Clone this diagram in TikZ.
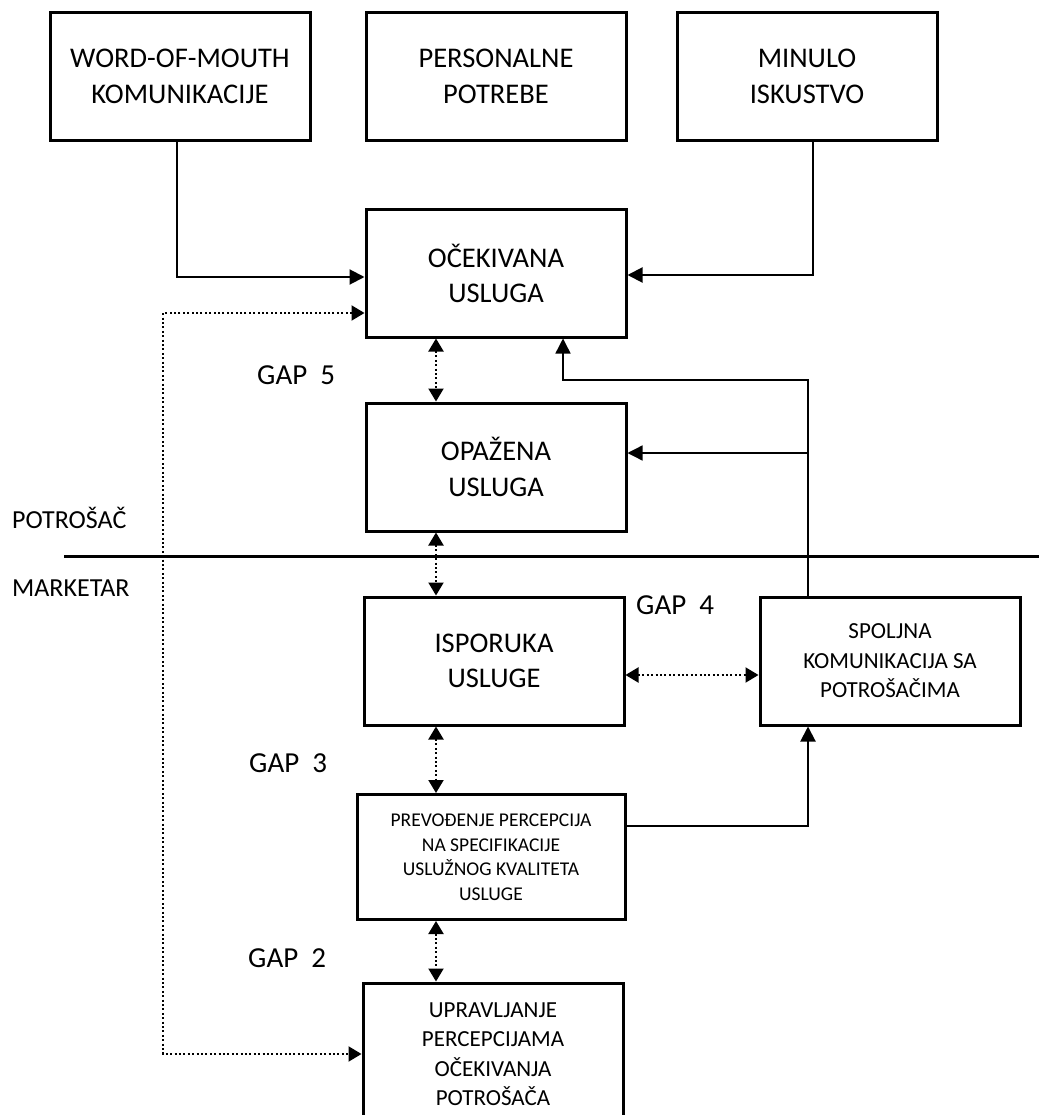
\documentclass[tikz,border=0pt]{standalone}
\usepackage{fontspec}
\setmainfont{Carlito}
\usetikzlibrary{arrows.meta}
\begin{document}
\begin{tikzpicture}[x=1pt,y=-1pt,
  box/.style={draw, line width=3pt, align=center, minimum width=260pt, minimum height=128pt, inner sep=0pt, font=\fontsize{28.5}{35.5}\selectfont},
  medbox/.style={box, font=\fontsize{23}{29.5}\selectfont},
  smallbox/.style={box, font=\fontsize{19.5}{24.5}\selectfont},
  arr/.style={line width=2pt, -{Triangle[length=15pt,width=15pt]}},
  thinarr/.style={line width=1.4pt, -{Triangle[length=15pt,width=15pt]}},
  gaparr/.style={line width=2pt, dash pattern=on 2pt off 2.4pt, {Triangle[length=13pt,width=15pt]}-{Triangle[length=13pt,width=15pt]}},
  lbl/.style={anchor=west, inner sep=0pt, font=\fontsize{29}{32}\selectfont},
  side/.style={anchor=west, inner sep=0pt, font=\fontsize{26}{30}\selectfont}]
\useasboundingbox (0,0) rectangle (1039,1115);
\fill[white] (0,0) rectangle (1039,1115);

% boxes
\node[box] (wom) at (180,76.5) {WORD-OF-MOUTH\\KOMUNIKACIJE};
\node[box] (pers) at (496,76.5) {PERSONALNE\\POTREBE};
\node[box] (min) at (807,76.5) {MINULO\\ISKUSTVO};
\node[box, minimum height=127pt] (oce) at (496,273.5) {OČEKIVANA\\USLUGA};
\node[box] (opa) at (496,467) {OPAŽENA\\USLUGA};
\node[box] (isp) at (494,661) {ISPORUKA\\USLUGE};
\node[medbox] (spo) at (890,661) {SPOLJNA\\KOMUNIKACIJA SA\\POTROŠAČIMA};
\node[smallbox, minimum width=268pt, minimum height=125pt] (pre) at (491,857) {PREVOĐENJE PERCEPCIJA\\NA SPECIFIKACIJE\\USLUŽNOG KVALITETA\\USLUGE};
\node[medbox, minimum height=142pt] (upr) at (493,1054) {UPRAVLJANJE\\PERCEPCIJAMA\\OČEKIVANJA\\POTROŠAČA};

% labels
\node[lbl] (g5) at (257,375) {GAP\ \ 5};
\node[lbl] (g4) at (636,605) {GAP\ \ 4};
\node[lbl] (g3) at (249,763) {GAP\ \ 3};
\node[lbl] (g2) at (248,958) {GAP\ \ 2};
\node[side] (pot) at (12,518) {POTROŠAČ};
\node[side] (mar) at (12,588) {MARKETAR};

% divider
\coordinate (dl) at (64,556);
\coordinate (dr) at (1039,556);
\draw[line width=3pt] (dl) -- (dr);

% helper coordinates
\coordinate (gx) at (436,0);
\coordinate (sx) at (808,0);
\coordinate (kx) at (563,380);
\coordinate (lx) at (163,0);

% solid connectors
\draw[arr] ([xshift=-3pt]wom.south) |- ([yshift=-3.5pt]oce.west);
\draw[arr] ([xshift=6pt]min.south) |- ([yshift=-1.5pt]oce.east);
\draw[thinarr] (spo.north -| sx) -- (sx |- kx) -- (kx) -- (oce.south -| kx);
\draw[thinarr] (sx |- opa.east) ++(0,-14) -- ([yshift=14pt]opa.east);
\draw[arr] ([yshift=31pt]pre.east) -| (spo.south -| sx);

% gap arrows
\draw[gaparr] (oce.south -| gx) -- (opa.north -| gx);
\draw[gaparr] (opa.south -| gx) -- (isp.north -| gx);
\draw[gaparr] (isp.south -| gx) -- (pre.north -| gx);
\draw[gaparr] (pre.south -| gx) -- (upr.north -| gx);
\draw[gaparr] ([yshift=-14pt]isp.east) -- ([yshift=-14pt]spo.west);

% dotted feedback
\draw[gaparr] ([yshift=-39.5pt]oce.west) -| (lx |- upr.west) -- (upr.west);
\end{tikzpicture}
\end{document}
